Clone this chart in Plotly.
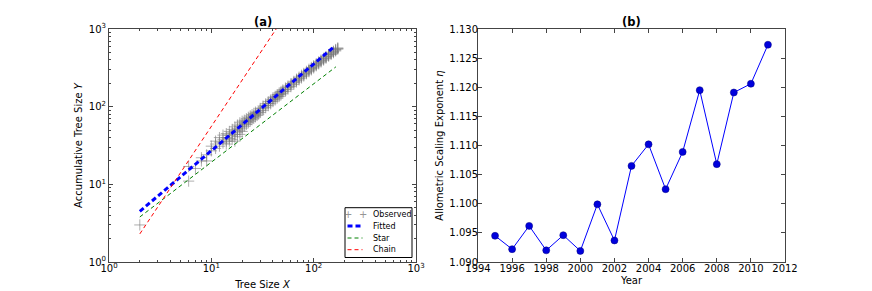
import plotly.graph_objects as go

# ---------------- Panel (a) data ----------------
obs_x = [2, 6, 6, 7, 8, 8, 9, 9,
         10, 10, 11, 11, 11, 12, 12, 12, 13, 13, 13,
         14, 14, 14, 14, 15, 15, 15, 15, 16, 16, 16, 16,
         17, 17, 17, 17, 18, 18, 18, 18, 19, 19, 19, 19,
         20, 20, 20, 20, 21, 21, 21, 22, 22, 22, 23, 23, 23,
         24, 24, 24, 25, 25, 25, 26, 26, 26, 27, 27, 27, 28, 28, 29, 29,
         30, 30, 30, 32, 32, 32, 34, 34, 34, 36, 36, 36, 38, 38, 38,
         40, 40, 40, 42, 42, 42, 44, 44, 44, 46, 46, 46, 48, 48, 48,
         50, 50, 50, 53, 53, 53, 56, 56, 56, 60, 60, 60, 64, 64, 64,
         68, 68, 68, 72, 72, 72, 76, 76, 76, 80, 80, 80, 85, 85, 85,
         90, 90, 90, 95, 95, 95, 100, 100, 100, 106, 106, 106,
         112, 112, 112, 118, 118, 118, 125, 125, 125, 132, 132, 132,
         140, 140, 140, 148, 148, 148, 156, 156, 156, 164, 164, 164,
         172, 172, 172]
obs_y = [3, 11, 17, 16, 20, 22, 20, 24,
         27, 31, 29, 33, 36, 31, 35, 40, 34, 38, 43,
         36, 40, 45, 33, 39, 43, 48, 36, 42, 46, 51, 38,
         44, 49, 55, 36, 47, 52, 58, 41, 50, 55, 62, 44,
         53, 58, 65, 48, 56, 61, 67, 59, 64, 70, 62, 67, 73,
         65, 70, 76, 68, 73, 79, 71, 76, 82, 74, 80, 85, 77, 83, 80, 86,
         84, 90, 95, 90, 96, 102, 97, 103, 109, 103, 110, 116, 109, 117, 122,
         116, 124, 130, 122, 130, 136, 129, 137, 143, 135, 143, 150, 142, 150, 157,
         149, 157, 164, 158, 167, 174, 168, 177, 184, 181, 190, 198, 194, 204, 212,
         208, 218, 226, 221, 231, 240, 234, 245, 254, 248, 258, 268, 265, 275, 285,
         282, 293, 303, 298, 310, 320, 315, 327, 338, 336, 348, 358,
         356, 368, 378, 376, 388, 398, 398, 410, 420, 420, 432, 442,
         446, 458, 468, 470, 482, 492, 495, 508, 518, 522, 535, 545,
         550, 562, 570]

fit_x = [2, 158]
fit_y = [4.49, 590]

star_x = [2, 165]
star_y = [3.8, 326]

chain_x = [2, 43]
chain_y = [2.3, 1000]

# ---------------- Panel (b) data ----------------
years = [1995, 1996, 1997, 1998, 1999, 2000, 2001, 2002, 2003,
         2004, 2005, 2006, 2007, 2008, 2009, 2010, 2011]
eta = [1.0945, 1.0922, 1.0962, 1.0920, 1.0946, 1.0919, 1.0999, 1.0937, 1.1065,
       1.1102, 1.1025, 1.1089, 1.1195, 1.1068, 1.1191, 1.1206, 1.1273]

log_ticks = [1, 10, 100, 1000]
log_labels = ["10<sup>0</sup>", "10<sup>1</sup>", "10<sup>2</sup>", "10<sup>3</sup>"]
log_minor = [2, 3, 4, 5, 6, 7, 8, 9,
             20, 30, 40, 50, 60, 70, 80, 90,
             200, 300, 400, 500, 600, 700, 800, 900]
year_ticks = list(range(1994, 2013, 2))
eta_ticks = [1.090, 1.095, 1.100, 1.105, 1.110, 1.115, 1.120, 1.125, 1.130]

legend_names = ["Observed", "Fitted", "Star", "Chain"]

FONT = "DejaVu Sans"
W, H = 864, 283   # page body has an 8px margin
FRAME = "#444444"


def px(x):
    return x / W


def py(y):
    return 1 - y / H


fig = go.Figure()

fig.add_trace(go.Scatter(
    x=obs_x, y=obs_y, mode="markers", name=legend_names[0], showlegend=False,
    marker=dict(symbol="cross-thin", size=8, color="rgba(0,0,0,0)",
                line=dict(color="rgba(120,120,120,0.6)", width=1)),
    xaxis="x", yaxis="y"))
fig.add_trace(go.Scatter(
    x=fit_x, y=fit_y, mode="lines", name=legend_names[1], showlegend=False,
    line=dict(color="#0000ff", width=3, dash="5px,3px"),
    xaxis="x", yaxis="y"))
fig.add_trace(go.Scatter(
    x=star_x, y=star_y, mode="lines", name=legend_names[2], showlegend=False,
    line=dict(color="#008000", width=1, dash="4px,3px"),
    xaxis="x", yaxis="y"))
fig.add_trace(go.Scatter(
    x=chain_x, y=chain_y, mode="lines", name=legend_names[3], showlegend=False,
    line=dict(color="#ff0000", width=1, dash="4px,3px"),
    xaxis="x", yaxis="y"))

fig.add_trace(go.Scatter(
    x=years, y=eta, mode="lines+markers", showlegend=False,
    line=dict(color="#0000ff", width=1),
    marker=dict(color="#0000dd", size=7, line=dict(color="#000080", width=0.5)),
    xaxis="x2", yaxis="y2"))

axis_common = dict(
    showline=True, linecolor=FRAME, linewidth=1, mirror="ticks",
    ticks="inside", ticklen=4, tickcolor=FRAME, showgrid=False,
    zeroline=False, automargin=False,
    tickfont=dict(family=FONT, size=10, color="black"),
    title_font=dict(family=FONT, size=10, color="black"),
)
minor_log = dict(ticks="inside", ticklen=2, tickcolor=FRAME, showgrid=False,
                 tickmode="array", tickvals=log_minor)

# ---------- custom compact legend (matplotlib-like) ----------
shapes = [dict(type="rect", xref="paper", yref="paper",
               x0=px(337), x1=px(404), y0=py(249.5), y1=py(199.7),
               line=dict(color="black", width=1), fillcolor="white", layer="above")]
annotations = []
row_y = [206, 218, 230, 241.7]
sw_x0, sw_x1, txt_x = 339.5, 354.5, 362.5
swatch_styles = [None,
                 dict(color="#0000ff", width=3, dash="5px,3px"),
                 dict(color="#008000", width=1, dash="4px,3px"),
                 dict(color="#ff0000", width=1, dash="4px,3px")]
for name, yy, st in zip(legend_names, row_y, swatch_styles):
    if st is None:
        for xx in (sw_x0, sw_x1):
            annotations.append(dict(text="+", x=px(xx), y=py(yy), xref="paper", yref="paper",
                                    showarrow=False, xanchor="center", yanchor="middle",
                                    font=dict(family=FONT, size=10, color="rgba(120,120,120,0.8)")))
    else:
        shapes.append(dict(type="line", xref="paper", yref="paper",
                           x0=px(sw_x0), x1=px(sw_x1), y0=py(yy), y1=py(yy),
                           line=st, layer="above"))
    annotations.append(dict(text=name, x=px(txt_x), y=py(yy), xref="paper", yref="paper",
                            showarrow=False, xanchor="left", yanchor="middle",
                            font=dict(family=FONT, size=8, color="black")))

annotations += [
    dict(text="<b>(a)</b>", x=px(254.5), y=py(13.5),
         xref="paper", yref="paper", showarrow=False,
         font=dict(family=FONT, size=11.5, color="black"),
         xanchor="center", yanchor="middle"),
    dict(text="<b>(b)</b>", x=px(623.5), y=py(13.5),
         xref="paper", yref="paper", showarrow=False,
         font=dict(family=FONT, size=11.5, color="black"),
         xanchor="center", yanchor="middle"),
]

fig.update_layout(
    width=W, height=H,
    margin=dict(l=0, r=0, t=0, b=0),
    paper_bgcolor="white", plot_bgcolor="white",
    font=dict(family=FONT, size=10, color="black"),
    showlegend=False,
    xaxis=dict(domain=[px(101), px(408)], type="log", range=[0, 3],
               tickvals=log_ticks, ticktext=log_labels, minor=minor_log,
               ticklabelstandoff=-3,
               title=dict(text="Tree Size <i>X</i>", standoff=7),
               anchor="y", **axis_common),
    yaxis=dict(domain=[py(254), py(21)], type="log", range=[0, 3],
               tickvals=log_ticks, ticktext=log_labels, minor=minor_log,
               title=dict(text="Accumulative Tree Size <i>Y</i>", standoff=4),
               anchor="x", **axis_common),
    xaxis2=dict(domain=[px(470), px(777)], range=[1994, 2012],
                tickvals=year_ticks, ticklabelstandoff=-3,
                title=dict(text="Year", standoff=3),
                anchor="y2", **axis_common),
    yaxis2=dict(domain=[py(254), py(21)], range=[1.090, 1.130],
                tickvals=eta_ticks, tickformat=".3f", ticklabelstandoff=-3,
                title=dict(text="Allometric Scaling Exponent <i>η</i>", standoff=3),
                anchor="x2", **axis_common),
    shapes=shapes,
    annotations=annotations,
)

fig.write_html("out.html")
